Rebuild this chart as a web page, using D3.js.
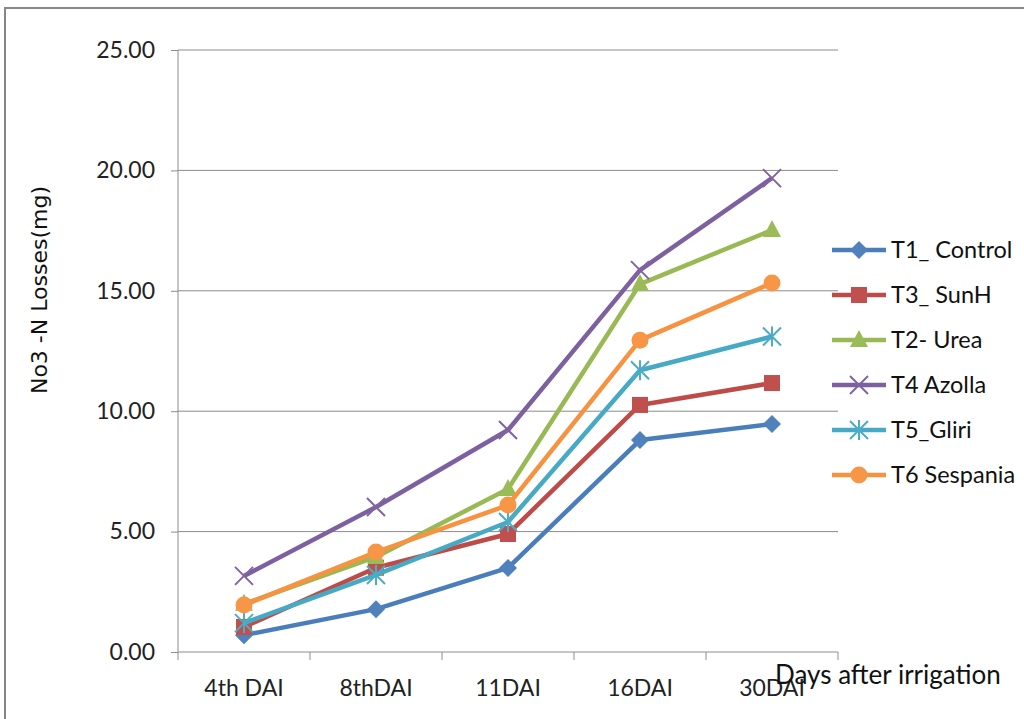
<!DOCTYPE html>
<html><head><meta charset="utf-8">
<script src="https://cdn.jsdelivr.net/npm/d3@7"></script>
<style>body{margin:0;background:#fff}svg{display:block}</style>
</head><body>
<svg id="c" width="1024" height="719"></svg>
<script>
const categories = ["4th DAI","8thDAI","11DAI","16DAI","30DAI"];
const seriesNames = ["T1_ Control","T3_ SunH","T2- Urea","T4 Azolla","T5_Gliri","T6 Sespania"];
const t1 = [0.70, 1.78, 3.49, 8.80, 9.47];
const t3 = [1.04, 3.50, 4.90, 10.26, 11.17];
const t2 = [2.00, 3.95, 6.77, 15.28, 17.52];
const t4 = [3.16, 6.02, 9.22, 15.86, 19.68];
const t5 = [1.20, 3.20, 5.40, 11.70, 13.10];
const t6 = [1.95, 4.15, 6.10, 12.95, 15.32];
const yTicks = [0, 5, 10, 15, 20, 25];
const lineColors = ["#4A7EBB","#BE4B48","#98B954","#7D60A0","#46AAC5","#F69240"];
const markerFills = ["#4F81BD","#C0504D","#9BBB59","#8064A2","#4BACC6","#F79646"];
const markerTypes = ["diamond","square","triangle","x","asterisk","circle"];
const allValues = [t1,t3,t2,t4,t5,t6];

const svg = d3.select("#c");
const font = "Lato, 'Open Sans', sans-serif";
// outer frame
svg.append("rect").attr("x",5).attr("y",8).attr("width",1030).attr("height",730)
  .attr("fill","none").attr("stroke","#878787").attr("stroke-width",2);

const L=178,R=838,T=50,B=652;
const x = d3.scaleBand().domain(categories).range([L,R]);
const y = d3.scaleLinear().domain([0,25]).range([B,T]);

// gridlines
svg.append("g").selectAll("line").data(yTicks.filter(d=>d>0)).join("line")
  .attr("x1",L).attr("x2",R).attr("y1",d=>y(d)).attr("y2",d=>y(d))
  .attr("stroke","#8C8C8C").attr("stroke-width",1);

// y axis
const ya = svg.append("g").attr("transform",`translate(${L},0)`)
  .call(d3.axisLeft(y).tickValues(yTicks).tickFormat(d3.format(".2f")).tickSize(7).tickPadding(16));
ya.select(".domain").attr("stroke","#8C8C8C").attr("d",`M0,${B}V${T}`);
ya.selectAll(".tick line").attr("stroke","#8C8C8C");
ya.selectAll("text").attr("font-family",font).attr("font-size",23).attr("fill","#222");

// x axis
const xa = svg.append("g").attr("transform",`translate(0,${B})`)
  .call(d3.axisBottom(x).tickSize(0).tickPadding(28));
xa.select(".domain").attr("stroke","#8C8C8C").attr("d",`M${L},0H${R}`);
xa.selectAll("text").attr("font-family",font).attr("font-size",23).attr("fill","#222");
const bounds = categories.map(c=>x(c)).concat([R]);
xa.append("g").selectAll("line").data(bounds).join("line")
  .attr("x1",d=>d).attr("x2",d=>d).attr("y1",0).attr("y2",8).attr("stroke","#8C8C8C");

// axis titles
svg.append("text").attr("transform","translate(47,290) rotate(-90)").attr("text-anchor","middle")
  .attr("font-family","'DejaVu Sans', sans-serif").attr("font-size",22).attr("fill","#111")
  .text("No3 -N Losses(mg)");
svg.append("text").attr("x",775).attr("y",684).attr("font-family",font).attr("font-size",26).attr("fill","#111")
  .text("Days after irrigation");

function marker(g, type, fill){
  if(type==="diamond") g.append("path").attr("d","M0,-9L9,0L0,9L-9,0Z").attr("fill",fill);
  else if(type==="square") g.append("rect").attr("x",-8).attr("y",-8).attr("width",16).attr("height",16).attr("fill",fill);
  else if(type==="triangle") g.append("path").attr("d","M0,-10L9,7L-9,7Z").attr("fill",fill);
  else if(type==="circle") g.append("circle").attr("r",8.5).attr("fill",fill);
  else if(type==="x") g.append("path").attr("d","M-9,-9L9,9M-9,9L9,-9").attr("stroke",fill).attr("stroke-width",2).attr("fill","none");
  else if(type==="asterisk") g.append("path").attr("d","M-9,-9L9,9M-9,9L9,-9M0,-10V10").attr("stroke",fill).attr("stroke-width",2).attr("fill","none");
}

const line = d3.line().x((d,i)=>x(categories[i])+x.bandwidth()/2).y(d=>y(d));
allValues.forEach((vals,s)=>{
  const g = svg.append("g");
  g.append("path").datum(vals).attr("d",line).attr("fill","none")
    .attr("stroke",lineColors[s]).attr("stroke-width",4.5).attr("stroke-linejoin","round");
  vals.forEach((v,i)=>{
    const m = g.append("g").attr("transform",`translate(${x(categories[i])+x.bandwidth()/2},${y(v)})`);
    marker(m, markerTypes[s], markerFills[s]);
  });
});

// legend
const lg = svg.append("g");
seriesNames.forEach((n,s)=>{
  const yy = 250 + s*45;
  lg.append("line").attr("x1",832).attr("x2",886).attr("y1",yy).attr("y2",yy)
    .attr("stroke",lineColors[s]).attr("stroke-width",4.5);
  const m = lg.append("g").attr("transform",`translate(859,${yy})`);
  marker(m, markerTypes[s], markerFills[s]);
  lg.append("text").attr("x",891).attr("y",yy+8).attr("font-family",font).attr("font-size",23.5)
    .attr("fill","#111").text(n);
});
</script>
</body></html>
